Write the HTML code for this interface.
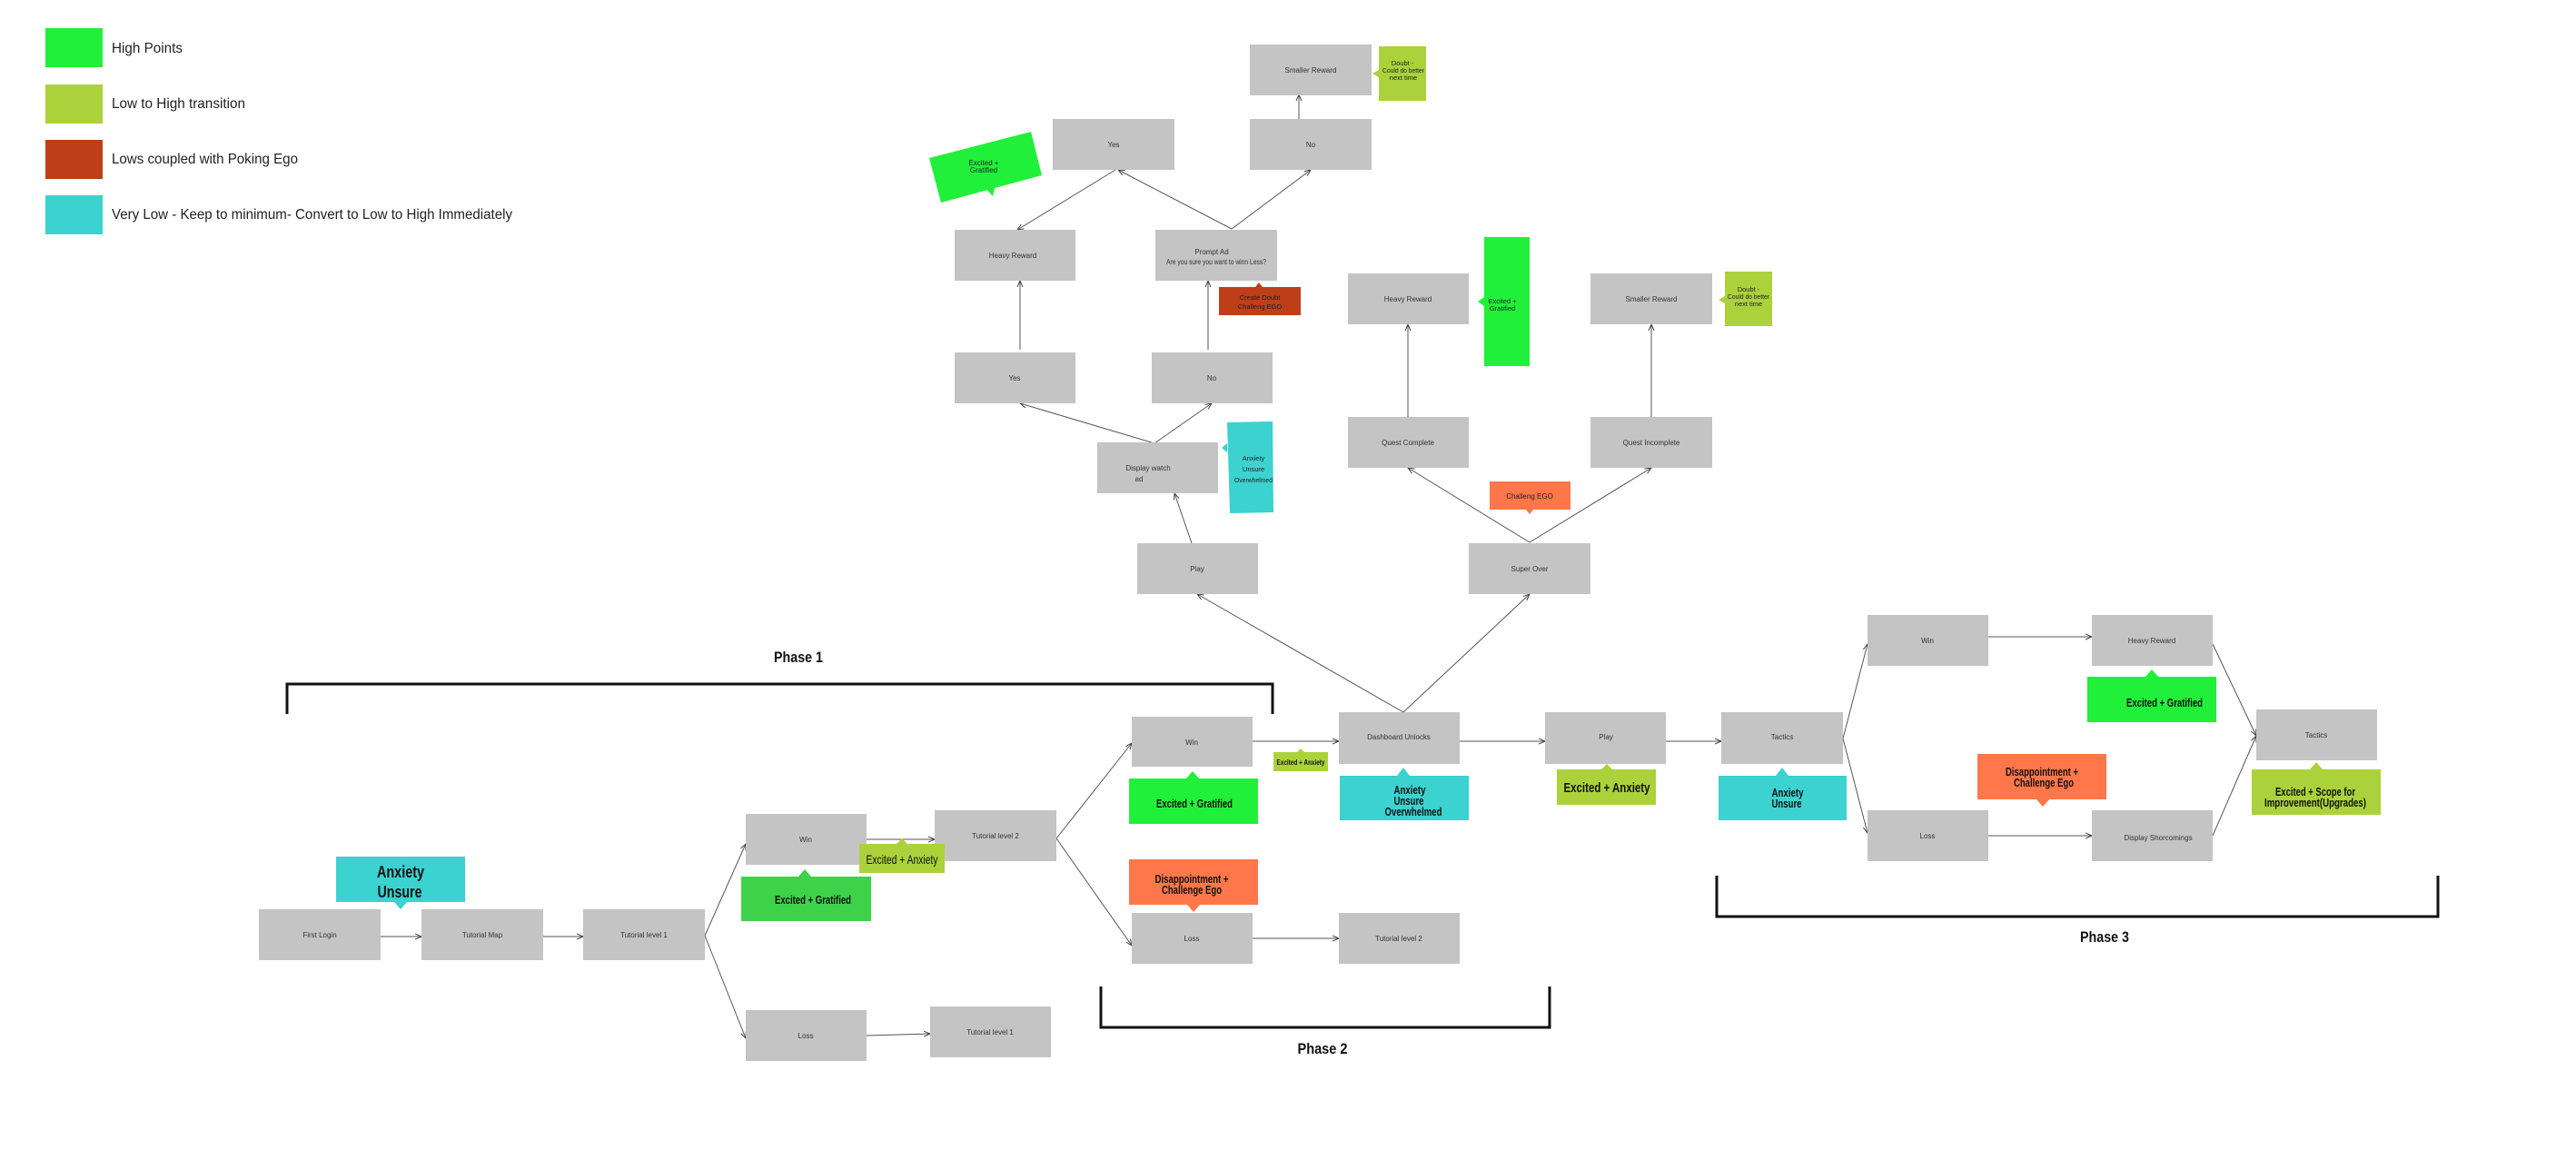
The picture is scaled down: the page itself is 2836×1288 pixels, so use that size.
<!DOCTYPE html>
<html><head><meta charset="utf-8"><style>
html,body{margin:0;padding:0;background:#fff;}
svg{display:block;}
text{font-family:"Liberation Sans Narrow","Liberation Sans",sans-serif;}
.n{fill:#c4c4c4;}
.nl{font-size:8px;fill:#333;text-anchor:middle;}
.c{stroke:#555;stroke-width:1;fill:none;marker-end:url(#a);}
.b{font-weight:bold;fill:#111;text-anchor:middle;}
.br{stroke:#111;stroke-width:3;fill:none;}
</style></head><body>
<svg width="2836" height="1288" viewBox="0 0 2836 1288" xmlns="http://www.w3.org/2000/svg">
<defs><marker id="a" markerWidth="8" markerHeight="8" refX="7" refY="4" orient="auto" markerUnits="userSpaceOnUse"><path d="M0,1 L7,4 L0,7" fill="none" stroke="#444" stroke-width="1"/></marker></defs>

<!-- legend -->
<rect x="50" y="31" width="63" height="43" fill="#21f03a"/>
<rect x="50" y="93" width="63" height="43" fill="#abd23a"/>
<rect x="50" y="154" width="63" height="43" fill="#be3e17"/>
<rect x="50" y="215" width="63" height="43" fill="#3bd2d0"/>
<g font-size="16" fill="#222" lengthAdjust="spacingAndGlyphs">
<text x="123" y="58" textLength="78" lengthAdjust="spacingAndGlyphs">High Points</text>
<text x="123" y="119" textLength="147" lengthAdjust="spacingAndGlyphs">Low to High transition</text>
<text x="123" y="180" textLength="205" lengthAdjust="spacingAndGlyphs">Lows coupled with Poking Ego</text>
<text x="123" y="241" textLength="441" lengthAdjust="spacingAndGlyphs">Very Low - Keep to minimum- Convert to Low to High Immediately</text>
</g>

<!-- connectors -->
<line class="c" x1="419" y1="1031" x2="464" y2="1031"/>
<line class="c" x1="598" y1="1031" x2="642" y2="1031"/>
<line class="c" x1="776" y1="1030" x2="821" y2="929"/>
<line class="c" x1="776" y1="1030" x2="821" y2="1143"/>
<line class="c" x1="954" y1="924" x2="1029" y2="924"/>
<line class="c" x1="954" y1="1140" x2="1024" y2="1138"/>
<line class="c" x1="1163" y1="923" x2="1246" y2="818"/>
<line class="c" x1="1163" y1="923" x2="1246" y2="1041"/>
<line class="c" x1="1379" y1="816" x2="1474" y2="816"/>
<line class="c" x1="1379" y1="1033" x2="1474" y2="1033"/>
<line class="c" x1="1545" y1="784" x2="1318" y2="654"/>
<line class="c" x1="1545" y1="784" x2="1684" y2="654"/>
<line class="c" x1="1607" y1="816" x2="1701" y2="816"/>
<line class="c" x1="1834" y1="816" x2="1895" y2="816"/>
<line class="c" x1="2029" y1="813" x2="2056" y2="709"/>
<line class="c" x1="2029" y1="813" x2="2056" y2="917"/>
<line class="c" x1="2189" y1="701" x2="2303" y2="701"/>
<line class="c" x1="2189" y1="920" x2="2303" y2="920"/>
<line class="c" x1="2436" y1="709" x2="2484" y2="810"/>
<line class="c" x1="2436" y1="920" x2="2484" y2="810"/>
<!-- top tree -->
<line class="c" x1="1312" y1="598" x2="1293" y2="543"/>
<line class="c" x1="1271" y1="488" x2="1123" y2="444"/>
<line class="c" x1="1271" y1="488" x2="1334" y2="444"/>
<line class="c" x1="1123" y1="385" x2="1123" y2="309"/>
<line class="c" x1="1330" y1="385" x2="1330" y2="309"/>
<line class="c" x1="1356" y1="252" x2="1231" y2="187"/>
<line class="c" x1="1356" y1="252" x2="1443" y2="187"/>
<line class="c" x1="1228" y1="187" x2="1120" y2="253"/>
<line class="c" x1="1430" y1="131" x2="1430" y2="104"/>
<line class="c" x1="1684" y1="597" x2="1550" y2="515"/>
<line class="c" x1="1684" y1="597" x2="1818" y2="515"/>
<line class="c" x1="1550" y1="459" x2="1550" y2="357"/>
<line class="c" x1="1818" y1="459" x2="1818" y2="357"/>

<!-- brackets -->
<polyline class="br" points="316,786 316,753 1401,753 1401,786"/>
<polyline class="br" points="1212,1086 1212,1131 1706,1131 1706,1086"/>
<polyline class="br" points="1890,964 1890,1009 2684,1009 2684,964"/>
<text class="b" x="879" y="729" font-size="17" textLength="54" lengthAdjust="spacingAndGlyphs">Phase 1</text>
<text class="b" x="1456" y="1160" font-size="17" textLength="55" lengthAdjust="spacingAndGlyphs">Phase 2</text>
<text class="b" x="2317" y="1037" font-size="17" textLength="54" lengthAdjust="spacingAndGlyphs">Phase 3</text>

<!-- nodes -->
<g>
<rect class="n" x="285" y="1001" width="134" height="56"/><text class="nl" x="352" y="1032">First Login</text>
<rect class="n" x="464" y="1001" width="134" height="56"/><text class="nl" x="531" y="1032">Tutorial Map</text>
<rect class="n" x="642" y="1001" width="134" height="56"/><text class="nl" x="709" y="1032">Tutorial level 1</text>
<rect class="n" x="821" y="896" width="133" height="56"/><text class="nl" x="887" y="927">Win</text>
<rect class="n" x="1029" y="892" width="134" height="56"/><text class="nl" x="1096" y="923">Tutorial level 2</text>
<rect class="n" x="821" y="1112" width="133" height="56"/><text class="nl" x="887" y="1143">Loss</text>
<rect class="n" x="1024" y="1108" width="133" height="56"/><text class="nl" x="1090" y="1139">Tutorial level 1</text>
<rect class="n" x="1246" y="789" width="133" height="55"/><text class="nl" x="1312" y="820">Win</text>
<rect class="n" x="1246" y="1005" width="133" height="56"/><text class="nl" x="1312" y="1036">Loss</text>
<rect class="n" x="1474" y="784" width="133" height="57"/><text class="nl" x="1540" y="814">Dashboard Unlocks</text>
<rect class="n" x="1474" y="1005" width="133" height="56"/><text class="nl" x="1540" y="1036">Tutorial level 2</text>
<rect class="n" x="1701" y="784" width="133" height="57"/><text class="nl" x="1768" y="814">Play</text>
<rect class="n" x="1895" y="784" width="134" height="57"/><text class="nl" x="1962" y="814">Tactics</text>
<rect class="n" x="2056" y="677" width="133" height="56"/><text class="nl" x="2122" y="708">Win</text>
<rect class="n" x="2303" y="677" width="133" height="56"/><text class="nl" x="2369" y="708">Heavy Reward</text>
<rect class="n" x="2056" y="892" width="133" height="56"/><text class="nl" x="2122" y="923">Loss</text>
<rect class="n" x="2303" y="892" width="133" height="56"/><text class="nl" x="2376" y="925">Display Shorcomings</text>
<rect class="n" x="2484" y="781" width="133" height="56"/><text class="nl" x="2550" y="812">Tactics</text>
<rect class="n" x="1252" y="598" width="133" height="56"/><text class="nl" x="1318" y="629">Play</text>
<rect class="n" x="1617" y="598" width="134" height="56"/><text class="nl" x="1684" y="629">Super Over</text>
<rect class="n" x="1208" y="487" width="133" height="56"/><text class="nl" x="1264" y="518">Display watch</text><text class="nl" x="1254" y="530">ad</text>
<rect class="n" x="1051" y="388" width="133" height="56"/><text class="nl" x="1117" y="419">Yes</text>
<rect class="n" x="1268" y="388" width="133" height="56"/><text class="nl" x="1334" y="419">No</text>
<rect class="n" x="1051" y="253" width="133" height="56"/><text class="nl" x="1115" y="284">Heavy Reward</text>
<rect class="n" x="1272" y="253" width="134" height="56"/><text class="nl" x="1334" y="280">Prompt Ad</text><text class="nl" x="1339" y="291" textLength="110" lengthAdjust="spacingAndGlyphs">Are you sure you want to winn Less?</text>
<rect class="n" x="1159" y="131" width="134" height="56"/><text class="nl" x="1226" y="162">Yes</text>
<rect class="n" x="1376" y="131" width="134" height="56"/><text class="nl" x="1443" y="162">No</text>
<rect class="n" x="1376" y="49" width="134" height="56"/><text class="nl" x="1443" y="80">Smaller Reward</text>
<rect class="n" x="1484" y="301" width="133" height="56"/><text class="nl" x="1550" y="332">Heavy Reward</text>
<rect class="n" x="1751" y="301" width="134" height="56"/><text class="nl" x="1818" y="332">Smaller Reward</text>
<rect class="n" x="1484" y="459" width="133" height="56"/><text class="nl" x="1550" y="490">Quest Complete</text>
<rect class="n" x="1751" y="459" width="134" height="56"/><text class="nl" x="1818" y="490">Quest Incomplete</text>
</g>

<!-- callouts -->
<rect x="370" y="943" width="142" height="50" fill="#3bd2d0"/><path d="M434,993 L441,1001 L448,993Z" fill="#3bd2d0"/>
<text class="b" x="441" y="966" font-size="18" textLength="52" lengthAdjust="spacingAndGlyphs">Anxiety</text><text class="b" x="440" y="988" font-size="18" textLength="49" lengthAdjust="spacingAndGlyphs">Unsure</text>

<rect x="816" y="965" width="143" height="49" fill="#3dd24a"/><path d="M879,965 L886,957 L893,965Z" fill="#3dd24a"/>
<text class="b" x="895" y="995" font-size="13" textLength="84" lengthAdjust="spacingAndGlyphs">Excited + Gratified</text>

<rect x="946" y="929" width="94" height="32" fill="#abd23a"/><path d="M987,929 L993,923 L999,929Z" fill="#abd23a"/>
<text x="993" y="951" font-size="14" fill="#111" text-anchor="middle" textLength="79" lengthAdjust="spacingAndGlyphs">Excited + Anxiety</text>

<rect x="1243" y="857" width="142" height="50" fill="#21f03a"/><path d="M1306,857 L1313,849 L1320,857Z" fill="#21f03a"/>
<text class="b" x="1315" y="889" font-size="13" textLength="84" lengthAdjust="spacingAndGlyphs">Excited + Gratified</text>

<rect x="1402" y="828" width="60" height="21" fill="#abd23a"/><path d="M1428,828 L1432,824 L1436,828Z" fill="#abd23a"/>
<text class="b" x="1432" y="842" font-size="8" textLength="53" lengthAdjust="spacingAndGlyphs">Excited + Anxiety</text>

<rect x="1475" y="854" width="142" height="49" fill="#3bd2d0"/><path d="M1538,854 L1545,845 L1552,854Z" fill="#3bd2d0"/>
<text class="b" x="1552" y="874" font-size="13" textLength="35" lengthAdjust="spacingAndGlyphs">Anxiety</text><text class="b" x="1551" y="886" font-size="13" textLength="33" lengthAdjust="spacingAndGlyphs">Unsure</text><text class="b" x="1556" y="898" font-size="13" textLength="63" lengthAdjust="spacingAndGlyphs">Overwhelmed</text>

<rect x="1714" y="847" width="109" height="39" fill="#abd23a"/><path d="M1763,847 L1769,841 L1775,847Z" fill="#abd23a"/>
<text class="b" x="1769" y="872" font-size="15" textLength="95" lengthAdjust="spacingAndGlyphs">Excited + Anxiety</text>

<rect x="1892" y="854" width="141" height="49" fill="#3bd2d0"/><path d="M1955,854 L1962,845 L1969,854Z" fill="#3bd2d0"/>
<text class="b" x="1968" y="877" font-size="13" textLength="35" lengthAdjust="spacingAndGlyphs">Anxiety</text><text class="b" x="1967" y="889" font-size="13" textLength="33" lengthAdjust="spacingAndGlyphs">Unsure</text>

<rect x="1243" y="946" width="142" height="50" fill="#ff774a"/><path d="M1307,996 L1314,1004 L1321,996Z" fill="#ff774a"/>
<text class="b" x="1312" y="972" font-size="13" textLength="81" lengthAdjust="spacingAndGlyphs">Disappointment +</text><text class="b" x="1312" y="984" font-size="13" textLength="66" lengthAdjust="spacingAndGlyphs">Challenge Ego</text>

<rect x="2298" y="745" width="142" height="50" fill="#21f03a"/><path d="M2362,745 L2369,737 L2376,745Z" fill="#21f03a"/>
<text class="b" x="2383" y="778" font-size="13" textLength="84" lengthAdjust="spacingAndGlyphs">Excited + Gratified</text>

<rect x="2177" y="830" width="142" height="50" fill="#ff774a"/><path d="M2242,880 L2249,888 L2256,880Z" fill="#ff774a"/>
<text class="b" x="2248" y="854" font-size="13" textLength="80" lengthAdjust="spacingAndGlyphs">Disappointment +</text><text class="b" x="2250" y="866" font-size="13" textLength="66" lengthAdjust="spacingAndGlyphs">Challenge Ego</text>

<rect x="2479" y="847" width="142" height="50" fill="#abd23a"/><path d="M2543,847 L2550,839 L2557,847Z" fill="#abd23a"/>
<text class="b" x="2549" y="876" font-size="13" textLength="88" lengthAdjust="spacingAndGlyphs">Excited + Scope for</text><text class="b" x="2549" y="888" font-size="13" textLength="112" lengthAdjust="spacingAndGlyphs">Improvement(Upgrades)</text>

<!-- top callouts -->
<polygon points="1023,174 1135,145 1147,193 1036,223" fill="#21f03a"/>
<path d="M1084,206 L1093,216 L1096,203Z" fill="#21f03a"/>
<text x="1083" y="182" font-size="8" fill="#222" text-anchor="middle">Excited +</text><text x="1083" y="190" font-size="8" fill="#222" text-anchor="middle">Gratified</text>

<rect x="1518" y="51" width="52" height="60" fill="#abd23a"/><path d="M1518,77 L1511,81 L1518,85Z" fill="#abd23a"/>
<g font-size="7.5" fill="#222" text-anchor="middle"><text x="1544" y="72">Doubt -</text><text x="1545" y="80" textLength="46" lengthAdjust="spacingAndGlyphs">Could do better</text><text x="1545" y="88">next time</text></g>

<rect x="1342" y="316" width="90" height="31" fill="#be3e17"/><path d="M1382,316 L1386,311 L1390,316Z" fill="#be3e17"/>
<g font-size="7.5" fill="#222" text-anchor="middle"><text x="1387" y="330">Create Doubt</text><text x="1387" y="340">Challeng EGO</text></g>

<polygon points="1351,465 1401,464 1402,564 1354,565" fill="#3bd2d0"/><path d="M1351,488 L1345,493 L1351,498Z" fill="#3bd2d0"/>
<g font-size="7.5" fill="#222" text-anchor="middle"><text x="1380" y="507">Anxiety</text><text x="1380" y="519">Unsure</text><text x="1380" y="531" textLength="42" lengthAdjust="spacingAndGlyphs">Overwhelmed</text></g>

<rect x="1634" y="261" width="50" height="142" fill="#21f03a"/><path d="M1634,327 L1627,332 L1634,337Z" fill="#21f03a"/>
<g font-size="7.5" fill="#222" text-anchor="middle"><text x="1654" y="334">Excited +</text><text x="1654" y="342">Gratified</text></g>

<rect x="1899" y="299" width="52" height="60" fill="#abd23a"/><path d="M1899,326 L1892,330 L1899,334Z" fill="#abd23a"/>
<g font-size="7.5" fill="#222" text-anchor="middle"><text x="1925" y="321">Doubt -</text><text x="1925" y="329" textLength="46" lengthAdjust="spacingAndGlyphs">Could do better</text><text x="1925" y="337">next time</text></g>

<rect x="1640" y="530" width="89" height="31" fill="#ff774a"/><path d="M1680,561 L1684,566 L1688,561Z" fill="#ff774a"/>
<text x="1684" y="549" font-size="8" fill="#222" text-anchor="middle">Challeng EGO</text>
</svg>
</body></html>
